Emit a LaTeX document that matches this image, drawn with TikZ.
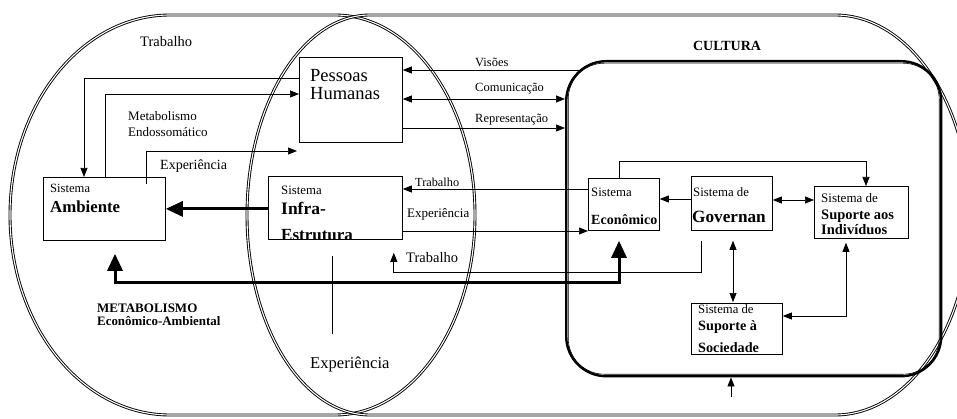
\documentclass[tikz,border=0pt]{standalone}
\usepackage{fontspec}
\setmainfont{Liberation Serif}
\usetikzlibrary{arrows.meta}
\begin{document}
\begin{tikzpicture}[x=1pt, y=-1pt,
  dbl/.style={draw, double, line width=0.9pt, double distance=1.1pt},
  sysbox/.style={draw, line width=0.8pt, inner sep=0, anchor=north west},
  txt/.style={inner sep=0, anchor=base west, font=\fontsize{#1}{#1}\selectfont},
  txt/.default=12.8,
  btxt/.style={inner sep=0, anchor=base west, font=\fontsize{#1}{#1}\selectfont\bfseries},
  btxt/.default=14.3,
  flow/.style={draw, line width=0.7pt, -{Triangle[length=9pt,width=7pt]}},
  flow2/.style={draw, line width=0.7pt, {Triangle[length=9pt,width=7pt]}-{Triangle[length=9pt,width=7pt]}},
  heavy/.style={draw, line width=3pt, -{Triangle[length=17pt,width=15pt]}},
  heavy2/.style={draw, line width=3pt, {Triangle[length=17pt,width=15pt]}-{Triangle[length=17pt,width=15pt]}},
]
\useasboundingbox (0,0) rectangle (957,419);
\clip (0,0) rectangle (957,419);

% Outer regions
\draw[dbl] (170,15) -- (335,15) arc[start angle=-90, end angle=90, x radius=140, y radius=200]
  -- (170,415) arc[start angle=90, end angle=270, x radius=160, y radius=200] -- cycle;
\draw[dbl] (370,15) -- (835,15) arc[start angle=-90, end angle=90, x radius=135, y radius=200]
  -- (370,415) arc[start angle=90, end angle=270, x radius=123, y radius=200] -- cycle;

% CULTURA
\node[draw, line width=2.4pt, rounded corners=40pt, inner sep=0, anchor=north west,
  minimum width=375pt, minimum height=315pt] (cul) at (565,60) {};
\draw[line width=0.6pt, rounded corners=36pt] ([shift={(3.2pt,-3.2pt)}]cul.north west)
  rectangle ([shift={(-3.2pt,3.2pt)}]cul.south east);
\node[btxt=14, anchor=base] (cult) at (727,51) {CULTURA};

% Systems
\node[sysbox, minimum width=103pt, minimum height=85pt] (pes) at (299,57) {};
\node[sysbox, minimum width=122pt, minimum height=63pt] (amb) at (43,177) {};
\node[sysbox, minimum width=134pt, minimum height=63pt] (inf) at (268,176) {};
\node[sysbox, minimum width=71pt, minimum height=52pt] (eco) at (588,178) {};
\node[sysbox, minimum width=81pt, minimum height=54pt] (gov) at (691,176) {};
\node[sysbox, minimum width=94pt, minimum height=52pt] (ind) at (814,186) {};
\node[sysbox, minimum width=91pt, minimum height=51pt] (soc) at (691,303) {};

% Box texts
\node[txt=18.5] (pes1) at (310,82) {Pessoas};
\node[txt=18.5] (pes2) at (310,100) {Humanas};
\node[txt=12.6] (amb1) at (50,193) {Sistema};
\node[btxt=16.8] (amb2) at (50,213) {Ambiente};
\node[txt] (inf1) at (281,195) {Sistema};
\node[btxt=17.5] (inf2) at (281,215) {Infra-};
\begin{scope}
  \clip (inf.north west) rectangle ([yshift=0.5pt]inf.south east);
  \node[btxt=17] (inf3) at (281,240.5) {Estrutura};
\end{scope}
\node[txt] (eco1) at (591,197) {Sistema};
\node[btxt=14] (eco2) at (591,225) {Econômico};
\node[txt] (gov1) at (693,197) {Sistema de};
\node[btxt=17.2] (gov2) at (692,223) {Governan};
\node[txt=13] (ind1) at (821,203) {Sistema de};
\node[btxt=14.5] (ind2) at (821,220) {Suporte aos};
\node[btxt=14.5] (ind3) at (821,235) {Indivíduos};
\node[txt=12.7] (soc1) at (698,313) {Sistema de};
\node[btxt=14.2] (soc2) at (698,330) {Suporte à};
\node[btxt=14.2] (soc3) at (698,352) {Sociedade};

% Free labels
\node[txt=14.5] (ltrab) at (140,47) {Trabalho};
\node[txt=13] (lmet1) at (128,121) {Metabolismo};
\node[txt=13] (lmet2) at (128,137) {Endossomático};
\node[txt=14] (lexp1) at (160,170) {Experiência};
\node[txt=12.5] (lvis) at (475,67) {Visões};
\node[txt=12.5] (lcom) at (475,92) {Comunicação};
\node[txt=12.5] (lrep) at (475,123) {Representação};
\node[txt=12.3] (ltrab2) at (415,187) {Trabalho};
\node[txt=13] (lexp2) at (407,218) {Experiência};
\node[txt=14.5] (ltrab3) at (406,263) {Trabalho};
\node[btxt=13] (lmeta1) at (97,312) {METABOLISMO};
\node[btxt=12.9] (lmeta2) at (97,325) {Econômico-Ambiental};
\node[txt=16.6] (lexp3) at (310,368) {Experiência};

% Connectors
\draw[flow] ([yshift=-21pt]pes.north west) -| ([xshift=41pt]amb.north west);
\draw[flow] ([xshift=62pt]amb.north west) |- ([yshift=-37pt]pes.north west);
\coordinate (expend) at (297,151);
\draw[flow] ([xshift=103pt,yshift=-7pt]amb.north west) |- (expend);
\coordinate (visstart) at (580,70);
\draw[flow] (visstart) -- (visstart -| pes.east);
\draw[flow2] ([yshift=-42pt]pes.north east) coordinate (com) -- (com -| cul.west);
\draw[flow] ([yshift=-71pt]pes.north east) coordinate (rep) -- (rep -| cul.west);
\draw[heavy] (amb.east -| inf.west) -- (amb.east);
\draw[flow] ([yshift=-11pt]eco.north west) coordinate (trab) -- (trab -| inf.east);
\draw[flow] ([yshift=-55pt]inf.north east) coordinate (exper) -- (exper -| eco.west);
\draw[flow] ([xshift=10pt,yshift=-10pt]gov.south west) |- ([xshift=-9pt,yshift=-33pt]inf.south east)
  -- ([xshift=-9pt,yshift=-13pt]inf.south east);
\draw[heavy2] ([xshift=31pt,yshift=-10pt]eco.south west) -- ++(0,42) -| ([xshift=72pt,yshift=-13pt]amb.south west);
\draw[flow] ([xshift=31pt]eco.north west) -- ++(0,-17) -| ([xshift=52pt]ind.north west);
\draw[flow] ([yshift=-23pt]gov.north west) coordinate (g1) -- (g1 -| eco.east);
\draw[flow2] ([yshift=-24pt]gov.north east) coordinate (g2) -- (g2 -| ind.west);
\draw[flow2] ([xshift=42pt,yshift=-10pt]gov.south west) -- ([xshift=42pt,yshift=1pt]soc.north west);
\draw[flow2] ([xshift=32pt,yshift=-4pt]ind.south west) |- ([yshift=-13pt]soc.north east);
\coordinate (culin) at (731,397);
\draw[flow] (culin) -- (culin |- cul.south);
\draw[line width=0.7pt] ([xshift=64pt,yshift=-16pt]inf.south west) -- ++(0,78);

\end{tikzpicture}
\end{document}
